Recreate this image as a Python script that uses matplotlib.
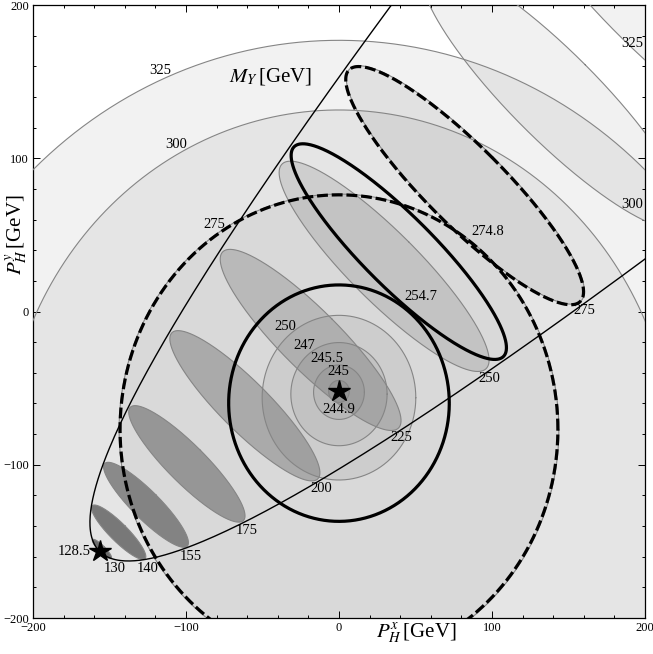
import numpy as np
import matplotlib
matplotlib.use("Agg")
import matplotlib.pyplot as plt
from matplotlib.ticker import MultipleLocator

plt.rcParams["font.family"] = ["Liberation Serif", "DejaVu Serif"]
plt.rcParams["mathtext.fontset"] = "stix"

# M_Y contours [GeV], nested around the minimum (star)
MY_MIN = 244.9
MY_MIN_POS = (0.0, -52.0)
MY_LEVELS = [245, 245.5, 247, 250, 275, 300, 325]

# second family: one ellipse per mass value, strung along the diagonal
F_MIN = 128.5
F_MIN_POS = (-156.5, -156.5)
F_LEVELS = [130, 140, 155, 175, 200, 225, 250, 275, 300, 325]

# values where both families touch (solid, dashed)
TOUCH = [254.7, 274.8]

# shape constants of the two families
MY_ALPHA, MY_MU, MY_ASPECT, MY_DRIFT = 0.349, 85.0, 1.07, 0.0051
F_KAPPA, F_SEMI, F_RATIO, EDGE_L = 0.00572, 0.44, 0.24, 35.5

# label placement (angle on the contour, degrees)
MY_LABEL_ANGLE = [93, 111, 127, 129, 123, 118, 113]

LINE_GREY = "#858585"
SQ2 = np.sqrt(2.0)
T = np.linspace(0, 2 * np.pi, 800)
U0 = (F_MIN_POS[0] + F_MIN_POS[1]) / SQ2


def my_shape(m):
    r = np.sqrt(((m - MY_MIN) / MY_ALPHA + MY_MU) ** 2 - MY_MU ** 2)
    a, b = r / np.sqrt(MY_ASPECT), r * np.sqrt(MY_ASPECT)
    yc = MY_MIN_POS[1] - MY_DRIFT * r ** 1.7
    return MY_MIN_POS[0], yc, a, b


def my_curve(m, t=T):
    xc, yc, a, b = my_shape(m)
    return xc + a * np.cos(t), yc + b * np.sin(t)


def f_shape(m):
    s = m ** 2 - F_MIN ** 2
    c = U0 + F_KAPPA * s
    b = F_SEMI * np.sqrt(s)
    return c, F_RATIO * b, b


def f_curve(m, t=T):
    c, a, b = f_shape(m)
    u = c + a * np.cos(t)
    v = b * np.sin(t)
    return (u - v) / SQ2, (u + v) / SQ2


fig = plt.figure(figsize=(6.53, 6.54), dpi=100)
ax = fig.add_axes([0.0505, 0.055, 0.9372, 0.9373])
ax.set_xlim(-200, 200)
ax.set_ylim(-200, 200)

# shaded regions: every M_Y level darkens a little
for m in MY_LEVELS[::-1]:
    ax.fill(*my_curve(m), color="black", alpha=0.05, lw=0, zorder=1)

# lighter shading for the heavier ellipses
for m in F_LEVELS:
    alpha = 0.05 + 0.48 * ((325 - m) / 195) ** 2.4
    ax.fill(*f_curve(m), color="black", alpha=alpha, lw=0, zorder=2)

for m in MY_LEVELS:
    ax.plot(*my_curve(m), color=LINE_GREY, lw=0.8, zorder=3)
for m in F_LEVELS:
    ax.plot(*f_curve(m), color=LINE_GREY, lw=0.8, zorder=3)

# edge of the allowed region (parabola around the diagonal)
v = np.linspace(-300, 300, 800)
u = U0 + v ** 2 / EDGE_L
ax.plot((u - v) / SQ2, (u + v) / SQ2, color="black", lw=1.0, zorder=4)

for m, ls in zip(TOUCH, ["-", (0, (3.4, 1.2))]):
    for curve in (my_curve, f_curve):
        ax.plot(*curve(m), color="black", lw=2.3, ls=ls, zorder=5,
                dash_capstyle="butt", solid_capstyle="butt")

for pos in (MY_MIN_POS, F_MIN_POS):
    ax.plot(*pos, marker="*", ms=16, color="black", mec="black", zorder=6)

# contour labels
for m, ang in zip(MY_LEVELS, MY_LABEL_ANGLE):
    xc, yc, a, b = my_shape(m)
    th = np.radians(ang)
    ax.text(xc + (a + 6) * np.cos(th), yc + (b + 6) * np.sin(th), f"{m:g}",
            ha="center", va="center", fontsize=10.5, zorder=7)
ax.text(MY_MIN_POS[0], MY_MIN_POS[1] - 12, f"{MY_MIN:g}",
        ha="center", va="center", fontsize=10.5, zorder=7)

for m in F_LEVELS:
    c, a, b = f_shape(m)
    tip = ((c + b) / SQ2, (c - b) / SQ2)
    if tip[0] < 190:
        ax.annotate(f"{m:g}", tip, xytext=(2.2, -7.2), textcoords="offset points",
                    ha="center", va="center", fontsize=10.5, zorder=7)
    else:
        xs, ys = f_curve(m)
        idx = np.where(np.diff(np.sign(xs - 200)))[0]
        ycross = ys[idx].min()
        ax.annotate(f"{m:g}", (200, ycross), xytext=(-1.5, 12), textcoords="offset points",
                    ha="right", va="center", fontsize=10.5, zorder=7)
ax.annotate(f"{F_MIN:g}", F_MIN_POS, xytext=(-6, 0), textcoords="offset points",
            ha="right", va="center", fontsize=10.5, zorder=7)

# where the highlighted pairs touch
for m in TOUCH:
    xs, ys = my_curve(m)
    c, a, b = f_shape(m)
    uu, vv = (xs + ys) / SQ2, (ys - xs) / SQ2
    k = np.argmin(((uu - c) / a) ** 2 + (vv / b) ** 2)
    ax.annotate(f"{m:g}", (xs[k], ys[k]), xytext=(9, 10.5), textcoords="offset points",
                ha="center", va="center", fontsize=10.5, zorder=7)

ax.text(-45, 153.6, r"$M_Y\,$[GeV]", ha="center", va="center", fontsize=15, zorder=7)
ax.text(0.626, -0.024, r"$P_H^x\,$[GeV]", transform=ax.transAxes,
        ha="center", va="center", fontsize=15)
ax.text(-0.027, 0.625, r"$P_H^y\,$[GeV]", transform=ax.transAxes, rotation=90,
        ha="center", va="center", fontsize=15)

for axis in (ax.xaxis, ax.yaxis):
    axis.set_major_locator(MultipleLocator(100))
    axis.set_minor_locator(MultipleLocator(20))
ax.tick_params(which="both", direction="in", top=True, right=True,
               labelsize=9, pad=3, width=0.7)
ax.tick_params(which="major", length=5)
ax.tick_params(which="minor", length=2.5)
for sp in ax.spines.values():
    sp.set_linewidth(0.9)

fig.savefig("out.png", dpi=100)
